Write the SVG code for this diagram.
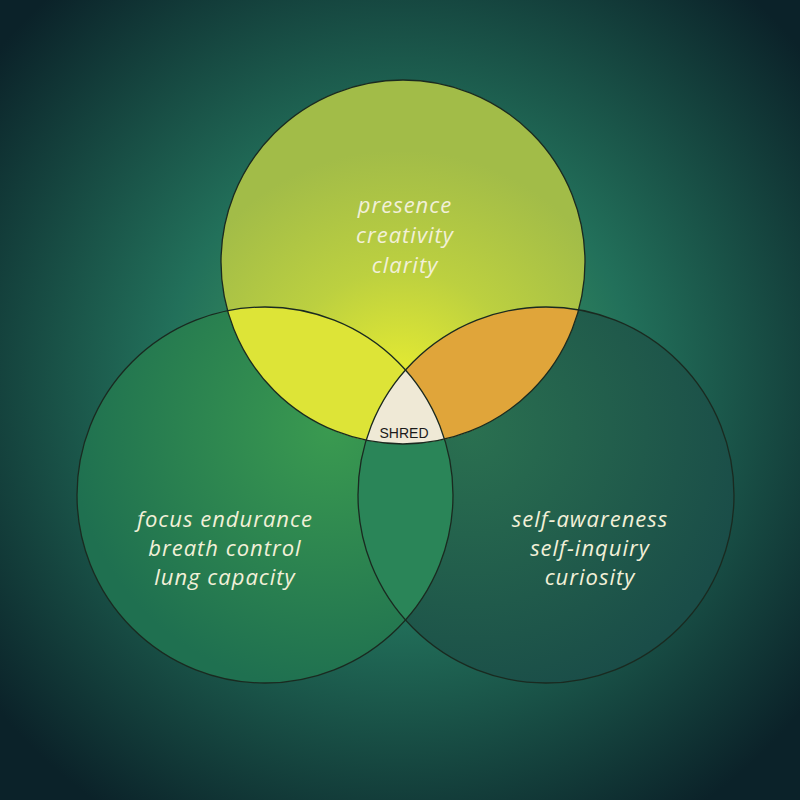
<svg xmlns="http://www.w3.org/2000/svg" width="800" height="800" viewBox="0 0 800 800">
<defs>
<radialGradient id="bg" cx="400" cy="380" r="520" gradientUnits="userSpaceOnUse">
<stop offset="0" stop-color="#4aa860"/><stop offset="0.45" stop-color="#22705a"/><stop offset="1" stop-color="#0b2229"/>
</radialGradient>
<radialGradient id="tg" cx="400" cy="390" r="240" gradientUnits="userSpaceOnUse">
<stop offset="0" stop-color="#eaee30"/><stop offset="0.5" stop-color="#bcd040"/><stop offset="1" stop-color="#a2bc48"/>
</radialGradient>
<radialGradient id="lg" cx="330" cy="430" r="260" gradientUnits="userSpaceOnUse">
<stop offset="0" stop-color="#3a9a50"/><stop offset="1" stop-color="#1f7050"/>
</radialGradient>
<radialGradient id="rg" cx="470" cy="430" r="280" gradientUnits="userSpaceOnUse">
<stop offset="0" stop-color="#2a7050"/><stop offset="1" stop-color="#1a4d48"/>
</radialGradient>
<clipPath id="cL"><circle cx="265" cy="495" r="188"/></clipPath>
<clipPath id="cR"><circle cx="546" cy="495" r="188"/></clipPath>
<clipPath id="cLR" clip-path="url(#cL)"><circle cx="546" cy="495" r="188"/></clipPath>
<style>
.c{stroke:#1a2a20;stroke-width:1.3;fill:none}
.t{font-family:"Open Sans",sans-serif;font-style:italic;font-size:22px;letter-spacing:1px;fill:#f2f0d8;text-anchor:middle}
</style>
</defs>
<rect width="800" height="800" fill="url(#bg)"/>
<g id="left"><circle cx="265" cy="495" r="188" fill="url(#lg)"/></g>
<g id="right"><circle cx="546" cy="495" r="188" fill="url(#rg)"/></g>
<g id="top"><circle cx="403" cy="262" r="182" fill="url(#tg)"/></g>
<g id="overlaps">
<circle cx="546" cy="495" r="188" fill="#2a8558" clip-path="url(#cL)"/>
<circle cx="403" cy="262" r="182" fill="#dde437" clip-path="url(#cL)"/>
<circle cx="403" cy="262" r="182" fill="#e0a53a" clip-path="url(#cR)"/>
<circle cx="403" cy="262" r="182" fill="#efe9d6" clip-path="url(#cLR)"/>
</g>
<g id="outlines">
<circle class="c" cx="403" cy="262" r="182"/>
<circle class="c" cx="265" cy="495" r="188"/>
<circle class="c" cx="546" cy="495" r="188"/>
</g>
<g id="labels">
<text class="t" x="405" y="213">presence</text>
<text class="t" x="405" y="243">creativity</text>
<text class="t" x="405" y="273">clarity</text>
<text class="t" x="225" y="527">focus endurance</text>
<text class="t" x="225" y="556">breath control</text>
<text class="t" x="225" y="585">lung capacity</text>
<text class="t" x="590" y="527">self-awareness</text>
<text class="t" x="590" y="556">self-inquiry</text>
<text class="t" x="590" y="585">curiosity</text>
<text x="404" y="438" font-family="Liberation Sans,sans-serif" font-size="14" fill="#1a1a1a" text-anchor="middle">SHRED</text>
</g>
</svg>
